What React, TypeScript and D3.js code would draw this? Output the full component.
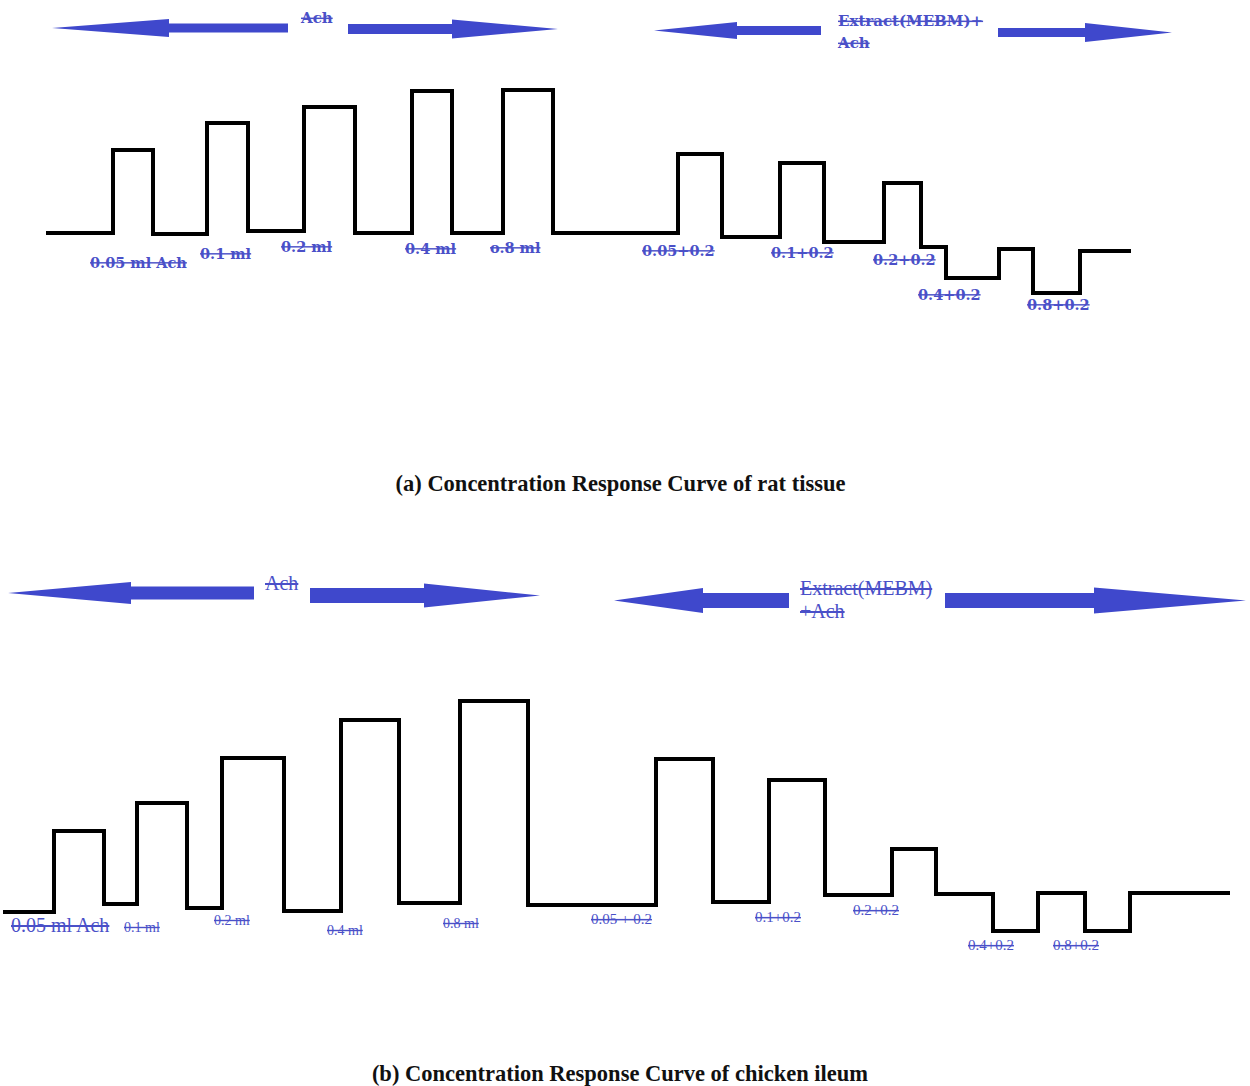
import React from "react";
import * as d3 from "d3";

const WIDTH = 1250;
const HEIGHT = 1086;

const TEXT_BLUE = "#4a50c8";
const ARROW_BLUE = "#3f48cc";

// trace (a): time breaks and response level of each segment
const ratTimes = [48, 113, 153, 207, 248, 304, 355, 412, 452, 503, 553, 678, 722, 780, 824, 884, 921, 946, 999, 1033, 1080, 1129];
const ratLevels = [67, 150, 66, 177, 69, 193, 67, 209, 67, 210, 67, 146, 63, 137, 58, 117, 53, 22, 51, 7, 49];

// trace (b)
const chickTimes = [5, 54, 104, 137, 187, 222, 284, 341, 399, 460, 528, 656, 713, 769, 825, 892, 936, 993, 1038, 1085, 1130, 1228];
const chickLevels = [48, 129, 56, 157, 52, 202, 49, 240, 57, 259, 55, 201, 58, 180, 65, 111, 66, 29, 67, 29, 67];

// dose labels
const ratLabels = ["0.05 ml Ach", "0.1 ml", "0.2 ml", "0.4 ml", "o.8 ml", "0.05+0.2", "0.1+0.2", "0.2+0.2", "0.4+0.2", "0.8+0.2"];
const ratLabelTimes = [90, 200, 281, 405, 490, 642, 771, 873, 918, 1027];
const ratLabelLevels = [38, 47, 54, 52, 53, 50, 48, 41, 6, -4];

const chickLabels = ["0.05 ml Ach", "0.1 ml", "0.2 ml", "0.4 ml", "0.8 ml", "0.05 + 0.2", "0.1+0.2", "0.2+0.2", "0.4+0.2", "0.8+0.2"];
const chickLabelTimes = [11, 124, 214, 327, 443, 591, 755, 853, 968, 1053];
const chickLabelLevels = [35, 33, 40, 30, 37, 41, 43, 50, 15, 15];
const chickLabelSizes = [20, 14, 14, 14, 14, 15, 15, 15, 15, 15];

// arrows: tip, head base, tail (time), level, shaft and head half widths
const ratArrows = [
  { tip: 52, base: 169, tail: 288, level: 272, shaft: 4.5, head: 9 },
  { tip: 558, base: 452, tail: 348, level: 271, shaft: 5, head: 9.5 },
  { tip: 654, base: 737, tail: 821, level: 269.5, shaft: 4.5, head: 8.5 },
  { tip: 1172, base: 1085, tail: 998, level: 267.5, shaft: 4.5, head: 9.5 },
];
const chickArrows = [
  { tip: 8, base: 131, tail: 254, level: 367, shaft: 6.5, head: 11 },
  { tip: 540, base: 424, tail: 310, level: 364.5, shaft: 7.5, head: 12 },
  { tip: 614, base: 703, tail: 789, level: 359.5, shaft: 7.5, head: 12.5 },
  { tip: 1246, base: 1094, tail: 945, level: 359.5, shaft: 7.5, head: 13 },
];

const x = d3.scaleLinear().domain([0, WIDTH]).range([0, WIDTH]);
const yA = d3.scaleLinear().domain([0, 300]).range([300, 0]);
const yB = d3.scaleLinear().domain([0, 300]).range([960, 660]);

function tracePath(times: number[], levels: number[], y: d3.ScaleLinear<number, number>) {
  const pts: [number, number][] = levels.map((l, i) => [times[i], l]);
  pts.push([times[times.length - 1], levels[levels.length - 1]]);
  return d3
    .line<[number, number]>()
    .x((d) => x(d[0]))
    .y((d) => y(d[1]))
    .curve(d3.curveStepAfter)(pts) as string;
}

function arrowPath(a: any, y: d3.ScaleLinear<number, number>) {
  const cy = y(a.level);
  const pts: [number, number][] = [
    [x(a.tip), cy],
    [x(a.base), cy - a.head],
    [x(a.base), cy - a.shaft],
    [x(a.tail), cy - a.shaft],
    [x(a.tail), cy + a.shaft],
    [x(a.base), cy + a.shaft],
    [x(a.base), cy + a.head],
  ];
  return d3.line()(pts) + "Z";
}

const strike = { textDecoration: "line-through" };

export default function App() {
  const boldFont = "'DejaVu Serif', serif";
  const regFont = "'Liberation Serif', 'Times New Roman', serif";
  return (
    <div style={{ position: "absolute", left: 0, top: 0 }}>
      <svg width={WIDTH} height={HEIGHT} style={{ display: "block", background: "#fff" }}>
        {/* panel (a) */}
        {ratArrows.map((a, i) => (
          <path key={i} d={arrowPath(a, yA)} fill={ARROW_BLUE} />
        ))}
        <g fontFamily={boldFont} fontWeight="bold" fontSize={15} fill={TEXT_BLUE} style={strike}>
          <text x={x(301)} y={yA(282)} dominantBaseline="central">Ach</text>
          <text x={x(838)} y={yA(279)} dominantBaseline="central">Extract(MEBM)+</text>
          <text x={x(838)} y={yA(257)} dominantBaseline="central">Ach</text>
        </g>
        <path d={tracePath(ratTimes, ratLevels, yA)} fill="none" stroke="#000" strokeWidth={4} strokeLinejoin="miter" strokeLinecap="square" />
        <g fontFamily={boldFont} fontWeight="bold" fontSize={14.5} fill={TEXT_BLUE} style={strike}>
          {ratLabels.map((t, i) => (
            <text key={i} x={x(ratLabelTimes[i])} y={yA(ratLabelLevels[i])} dominantBaseline="central">
              {t}
            </text>
          ))}
        </g>
        <text x={620.5} y={483} textAnchor="middle" dominantBaseline="central" fontFamily={regFont} fontWeight="bold" fontSize={22.5} fill="#111">
          (a) Concentration Response Curve of rat tissue
        </text>

        {/* panel (b) */}
        {chickArrows.map((a, i) => (
          <path key={i} d={arrowPath(a, yB)} fill={ARROW_BLUE} />
        ))}
        <g fontFamily={regFont} fontSize={20} fill={TEXT_BLUE} style={strike}>
          <text x={x(265)} y={yB(377)} dominantBaseline="central">Ach</text>
          <text x={x(800)} y={yB(372)} dominantBaseline="central">Extract(MEBM)</text>
          <text x={x(800)} y={yB(349)} dominantBaseline="central">+Ach</text>
        </g>
        <path d={tracePath(chickTimes, chickLevels, yB)} fill="none" stroke="#000" strokeWidth={4} strokeLinejoin="miter" strokeLinecap="square" />
        <g fontFamily={regFont} fill={TEXT_BLUE} style={strike}>
          {chickLabels.map((t, i) => (
            <text key={i} x={x(chickLabelTimes[i])} y={yB(chickLabelLevels[i])} fontSize={chickLabelSizes[i]} dominantBaseline="central">
              {t}
            </text>
          ))}
        </g>
        <text x={620} y={1073} textAnchor="middle" dominantBaseline="central" fontFamily={regFont} fontWeight="bold" fontSize={22.5} fill="#111">
          (b) Concentration Response Curve of chicken ileum
        </text>
      </svg>
    </div>
  );
}
